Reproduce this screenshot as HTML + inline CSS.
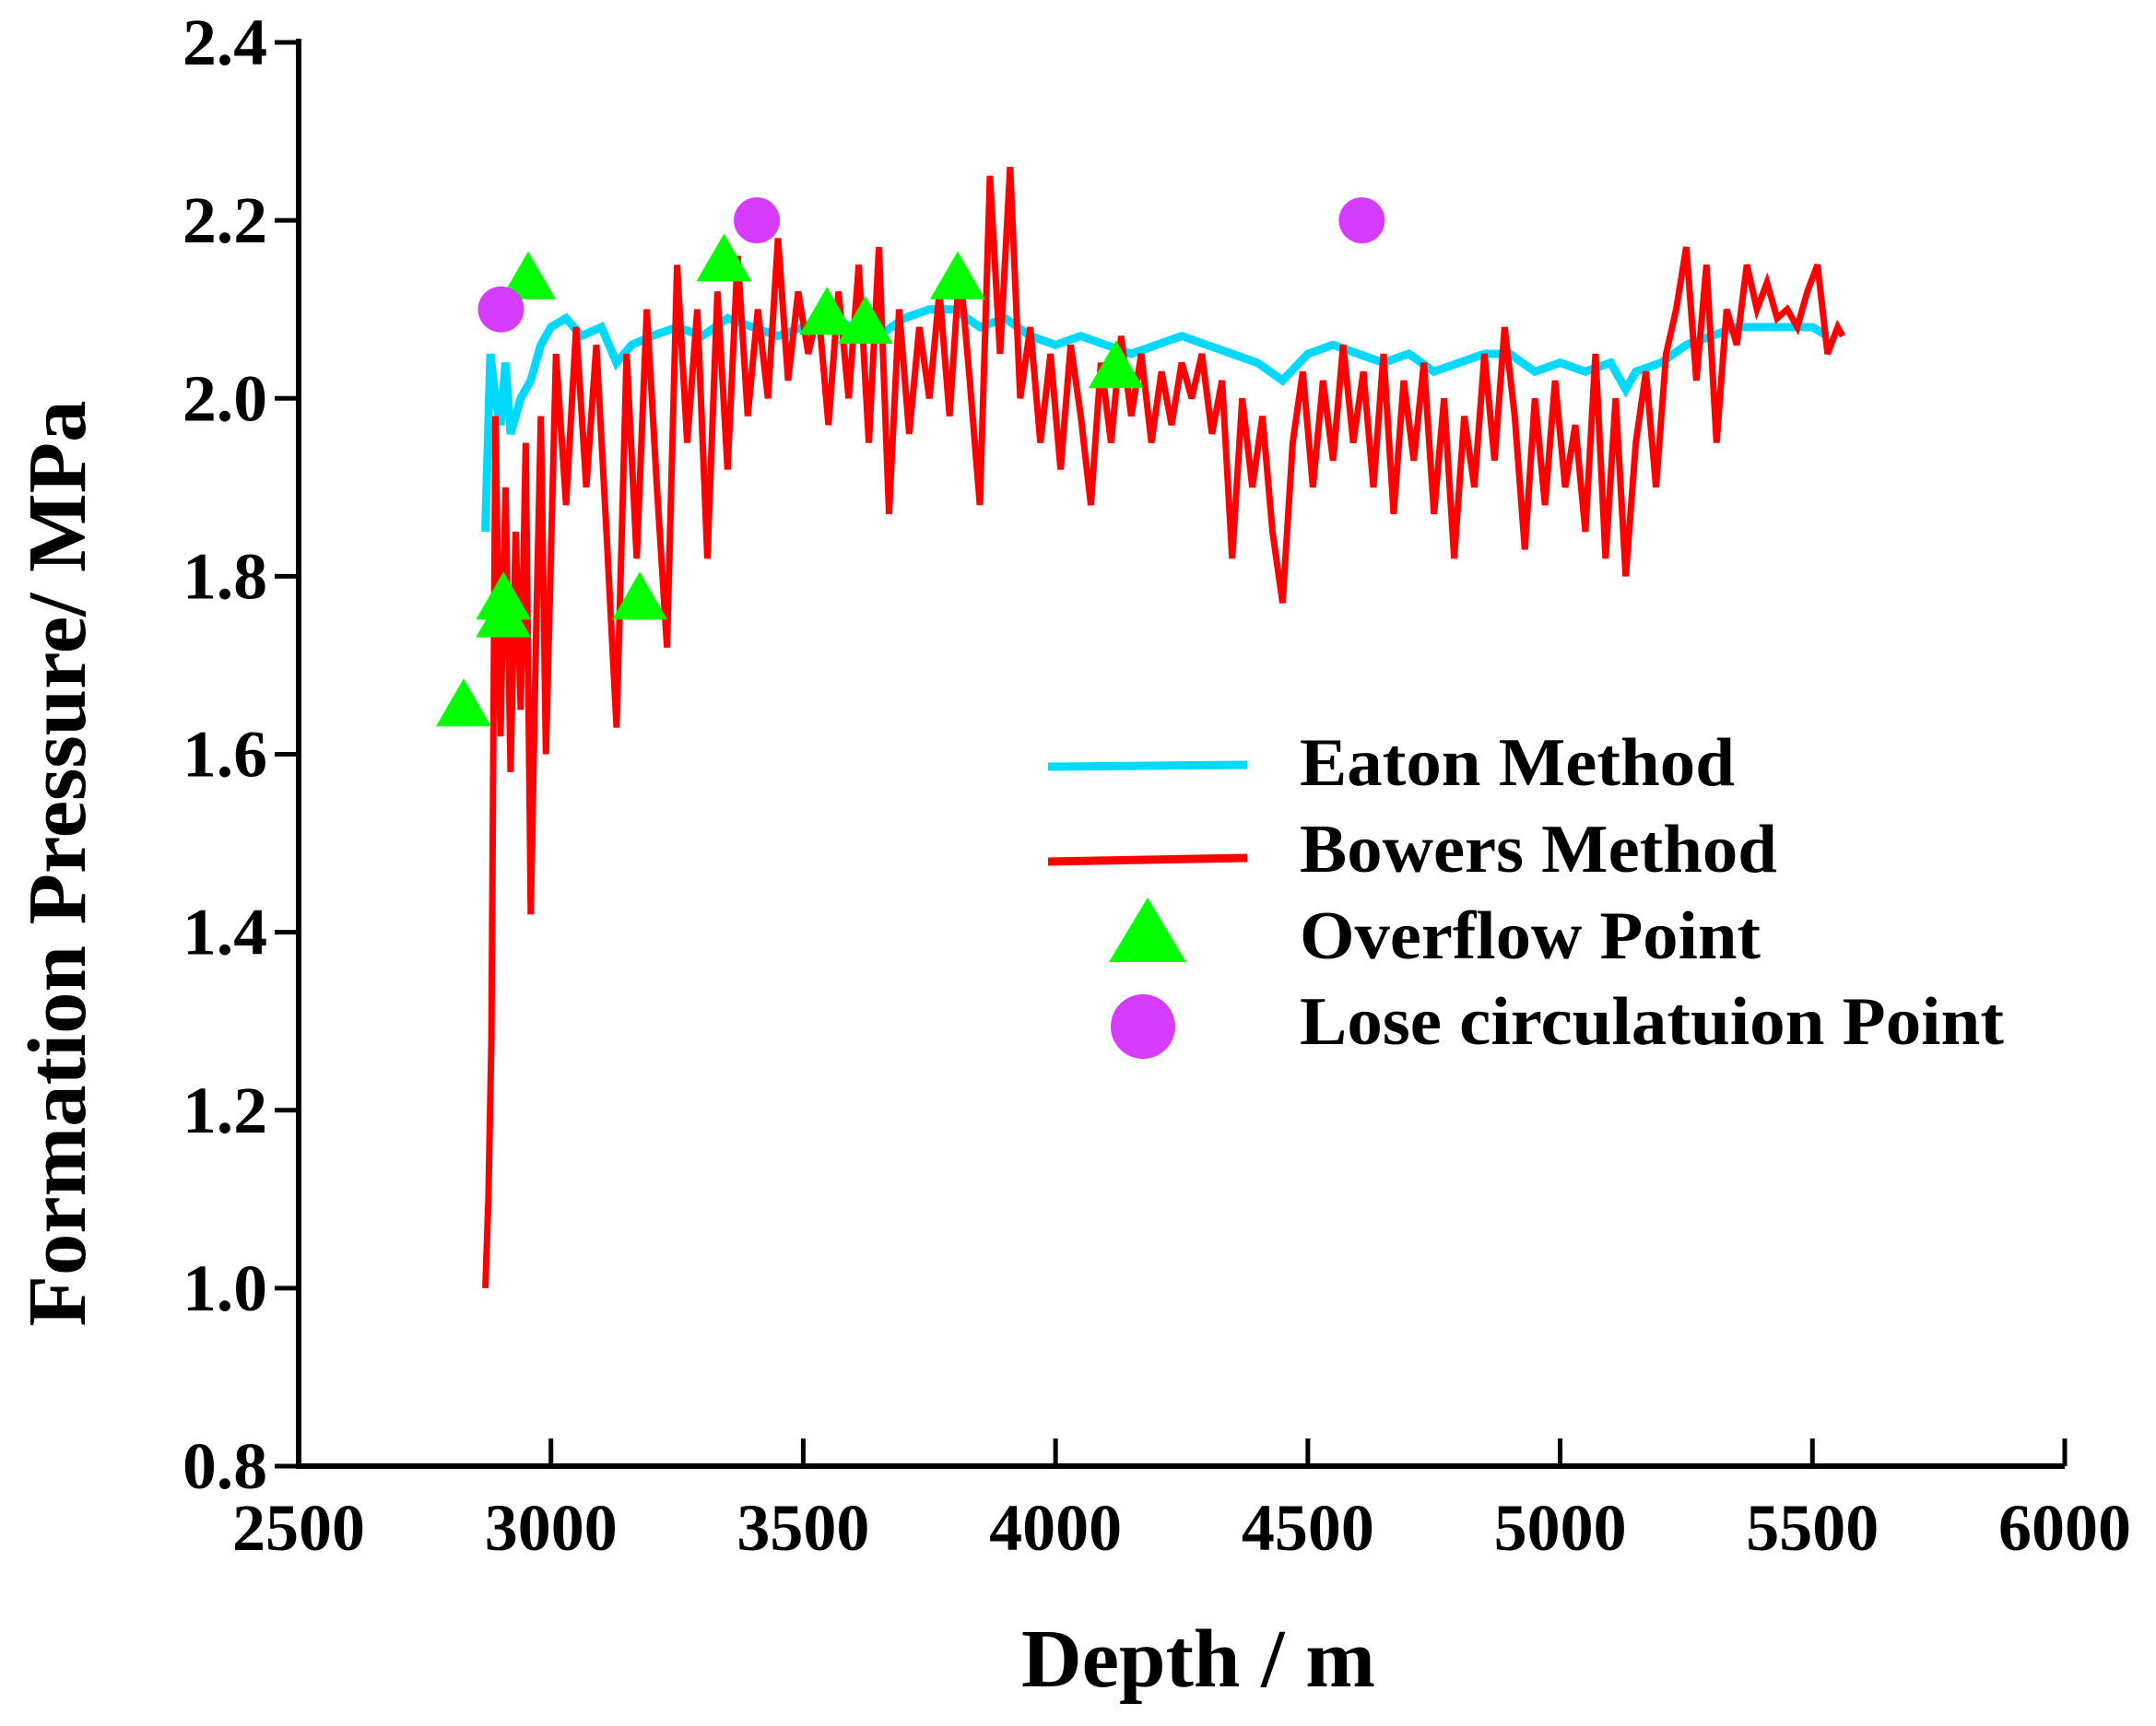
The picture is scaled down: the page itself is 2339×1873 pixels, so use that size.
<!DOCTYPE html>
<html><head><meta charset="utf-8"><style>
html,body{margin:0;padding:0;background:#fff;}
svg{display:block;}
text{font-family:"Liberation Serif",serif;font-weight:bold;fill:#000;}
</style></head><body>
<svg id="chart" width="2339" height="1873" viewBox="0 0 2339 1873">
<g id="plot"></g>
<g id="axes"></g>
<g id="legend">
  <line x1="1137" y1="832" x2="1353" y2="830" stroke="#00d8ff" stroke-width="9"/>
  <text x="1410" y="852" font-size="74" textLength="472" lengthAdjust="spacingAndGlyphs">Eaton Method</text>
  <line x1="1137" y1="935" x2="1353" y2="931" stroke="#ff0000" stroke-width="9"/>
  <text x="1410" y="946" font-size="74" textLength="518" lengthAdjust="spacingAndGlyphs">Bowers Method</text>
  <polygon points="1245,974 1287,1044 1203,1044" fill="#00ff00"/>
  <text x="1410" y="1040" font-size="74" textLength="500" lengthAdjust="spacingAndGlyphs">Overflow Point</text>
  <circle cx="1240" cy="1114" r="35" fill="#d63cff"/>
  <text x="1410" y="1133" font-size="74" textLength="764" lengthAdjust="spacingAndGlyphs">Lose circulatuion Point</text>
</g>
<text x="1300" y="1830" font-size="90" text-anchor="middle" textLength="384" lengthAdjust="spacingAndGlyphs">Depth / m</text>
<text transform="translate(92,937) rotate(-90)" font-size="90" text-anchor="middle" textLength="1005" lengthAdjust="spacingAndGlyphs">Formation Pressure/ MPa</text>
</svg>
<script>
const xTicks=[2500,3000,3500,4000,4500,5000,5500,6000];
const yTicks=[0.8,1.0,1.2,1.4,1.6,1.8,2.0,2.2,2.4];
const yTickLabels=["0.8","1.0","1.2","1.4","1.6","1.8","2.0","2.2","2.4"];
const bowersDepth=[2870,2876,2882,2890,2900,2910,2920,2930,2940,2950,2960,2970,2980,2990,3010,3030,3050,3070,3090,3110,3130,3150,3170,3190,3210,3230,3250,3270,3290,3310,3330,3350,3370,3390,3410,3430,3450,3470,3490,3510,3530,3550,3570,3590,3610,3630,3650,3670,3690,3710,3730,3750,3770,3790,3810,3830,3850,3870,3890,3910,3930,3950,3970,3990,4010,4030,4050,4070,4090,4110,4130,4150,4170,4190,4210,4230,4250,4270,4290,4310,4330,4350,4370,4390,4410,4430,4450,4470,4490,4510,4530,4550,4570,4590,4610,4630,4650,4670,4690,4710,4730,4750,4770,4790,4810,4830,4850,4870,4890,4910,4930,4950,4970,4990,5010,5030,5050,5070,5090,5110,5130,5150,5170,5190,5210,5230,5250,5270,5290,5310,5330,5350,5370,5390,5410,5430,5450,5470,5490,5510,5530,5550,5560];
const bowersP=[1.0,1.1,1.28,1.98,1.62,1.9,1.58,1.85,1.65,1.95,1.42,1.72,1.98,1.6,2.05,1.88,2.08,1.9,2.06,1.85,1.63,2.05,1.82,2.1,1.9,1.72,2.15,1.95,2.1,1.82,2.12,1.92,2.16,1.98,2.1,2.0,2.18,2.02,2.12,2.05,2.1,1.97,2.12,2.0,2.15,1.95,2.17,1.87,2.1,1.96,2.08,2.0,2.12,1.98,2.15,2.02,1.88,2.25,2.05,2.26,2.0,2.08,1.95,2.05,1.92,2.06,1.98,1.88,2.04,1.95,2.07,1.98,2.05,1.95,2.03,1.97,2.04,2.0,2.05,1.96,2.02,1.82,2.0,1.9,1.98,1.85,1.77,1.95,2.03,1.9,2.02,1.93,2.06,1.95,2.03,1.9,2.05,1.87,2.02,1.93,2.04,1.87,2.0,1.82,1.98,1.9,2.05,1.93,2.08,1.98,1.83,2.0,1.88,2.02,1.9,1.97,1.85,2.05,1.82,2.0,1.8,1.95,2.03,1.9,2.05,2.1,2.17,2.02,2.15,1.95,2.1,2.06,2.15,2.1,2.13,2.09,2.1,2.08,2.12,2.15,2.05,2.08,2.07];
const eatonDepth=[2870,2880,2890,2900,2910,2920,2940,2960,2980,3000,3030,3060,3100,3130,3160,3200,3250,3300,3350,3400,3450,3500,3550,3600,3650,3700,3750,3800,3850,3900,3950,4000,4050,4100,4150,4200,4250,4300,4350,4400,4450,4500,4550,4600,4650,4700,4750,4800,4850,4900,4950,5000,5050,5100,5130,5150,5200,5250,5300,5350,5400,5450,5500,5530];
const eatonP=[1.85,2.05,2.0,1.97,2.04,1.96,2.0,2.02,2.06,2.08,2.09,2.07,2.08,2.04,2.06,2.07,2.08,2.07,2.09,2.08,2.07,2.08,2.09,2.08,2.07,2.09,2.1,2.1,2.08,2.09,2.07,2.06,2.07,2.06,2.05,2.06,2.07,2.06,2.05,2.04,2.02,2.05,2.06,2.05,2.04,2.05,2.03,2.04,2.05,2.05,2.03,2.04,2.03,2.04,2.01,2.03,2.04,2.06,2.07,2.08,2.08,2.08,2.08,2.07];
const overflowDepth=[2827,2906,2906,2955,3176,3343,3547,3623,3806,4120];
const overflowP=[1.65,1.77,1.75,2.13,1.77,2.15,2.09,2.08,2.13,2.03];
const loseDepth=[2901,3408,4607];
const loseP=[2.10,2.20,2.20];

const X0=324,X1=2240,Y0=1591,Y1=46;
const sx=d=>X0+(d-2500)/3500*(X1-X0);
const sy=p=>Y0-(p-0.8)/1.6*(Y0-Y1);
const NS='http://www.w3.org/2000/svg';
const plot=document.getElementById('plot'),axes=document.getElementById('axes');
function mk(tag,attrs,parent){const e=document.createElementNS(NS,tag);for(const k in attrs)e.setAttribute(k,attrs[k]);parent.appendChild(e);return e;}

const eaton=mk('polyline',{points:eatonDepth.map((d,i)=>sx(d)+','+sy(eatonP[i])).join(' '),fill:'none',stroke:'#00d8ff','stroke-width':9,'stroke-linejoin':'miter'},plot);


const bowers=mk('polyline',{points:bowersDepth.map((d,i)=>sx(d)+','+sy(bowersP[i])).join(' '),fill:'none',stroke:'#ff0000','stroke-width':7,'stroke-linejoin':'miter'},plot);


overflowDepth.forEach((d,i)=>{const cx=sx(d),cy=sy(overflowP[i]);
 const t=mk('polygon',{points:`${cx},${cy-34} ${cx+30},${cy+18} ${cx-30},${cy+18}`,fill:'#00ff00'},plot);
 
 });
loseDepth.forEach((d,i)=>{
 const c=mk('circle',{cx:sx(d),cy:sy(loseP[i]),r:25,fill:'#d63cff'},plot);
 
 });

const ax=mk('path',{d:`M${X0},${Y1-4} V${Y0} H${X1}`,fill:'none',stroke:'#000','stroke-width':6},axes);


xTicks.forEach(v=>{const x=sx(v);
 const l=mk('line',{x1:x,y1:Y0,x2:x,y2:Y0-30,stroke:'#000','stroke-width':5},axes);
 
 
 const t=mk('text',{x:x,y:1682,'font-size':72,'text-anchor':'middle',textLength:144,lengthAdjust:'spacingAndGlyphs'},axes);
 t.textContent=String(v);
 
 });
yTicks.forEach((v,i)=>{const y=sy(v);
 const l=mk('line',{x1:X0,y1:y,x2:X0-26,y2:y,stroke:'#000','stroke-width':5},axes);
 
 
 const t=mk('text',{x:290,y:y+24,'font-size':72,'text-anchor':'end',textLength:92,lengthAdjust:'spacingAndGlyphs'},axes);
 t.textContent=yTickLabels[i];
 
 });
</script>
</body></html>
